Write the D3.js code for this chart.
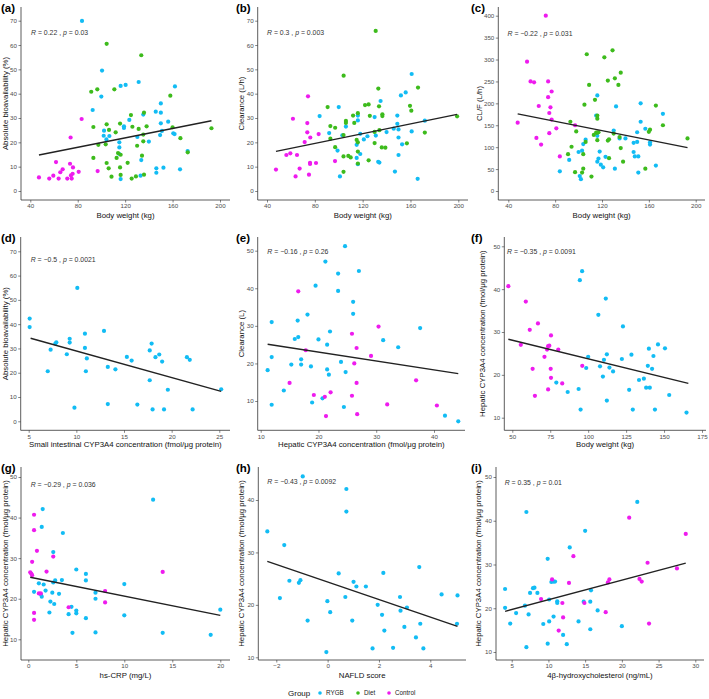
<!DOCTYPE html>
<html><head><meta charset="utf-8">
<script src="https://cdn.jsdelivr.net/npm/d3@7"></script>
<style>body{margin:0;background:#fff;}svg{display:block;font-family:"Liberation Sans",Arial,Helvetica,sans-serif;}</style>
</head><body>
<script>
// ---------------- DATA ----------------
const groups = ["RYGB", "Diet", "Control"];
const groupColors = ["#12BCF4", "#3DBB1C", "#EE1BEE"];

// (a) Body weight vs absolute bioavailability
const aRYGB = [[83.6,69.9],[100.5,49.5],[99.9,38.8],[92.6,33.3],[116.2,43.2],[120.4,43.6],[131.4,44.8],[162,43],[150.1,36],[150.1,32.2],[145.8,32.6],[135.3,31.4],[123.5,29.2],[119,26.6],[119,25.9],[156.3,28.5],[150.1,27.8],[151,24.7],[149.5,23],[160.6,23.7],[161.7,23.4],[130.3,22.2],[140,20.3],[115.1,20],[115.1,17.9],[115.1,15.2],[116.2,4.9],[102.2,24.8],[101.9,22.7],[104.2,21.2],[106.7,22.6],[133.6,12.7],[133,6.3],[146.3,9.3],[146.3,7.5],[152.3,9.6],[166.3,8.9],[172.7,16.4]];
const aDiet = [[104.4,60.5],[133.6,55.8],[91.4,40.8],[96.5,41.8],[110.9,41.8],[158.1,39.2],[135.9,32.2],[124.9,31.2],[104.4,27.4],[93.2,26.3],[106.4,25.1],[115.7,27.7],[126.1,26.4],[131.4,25.5],[138.1,26.6],[135.3,23.2],[112,24.1],[97.4,19],[103.6,19.2],[130.1,18.6],[135.3,20.4],[160,26.2],[166.6,21.7],[192.8,25.8],[172.8,15.9],[93.2,13.6],[114,15.6],[116.2,14.9],[112.8,13.6],[134.2,14.5],[104.4,11.5],[122.1,11.6],[106.1,9.3],[115.7,9.7],[108.5,5.9],[116.2,6.6],[125.5,5.1],[129.1,6],[135.9,6.7]];
const aControl = [[47.3,5.6],[56,5.1],[59.4,6.3],[61.7,11.9],[63.9,5.1],[65.3,7.7],[67.3,8.9],[71.2,5.1],[73.5,11.2],[74.3,6.4],[74.9,5.1],[75.7,7.1],[76,9.7],[80.8,7.9],[74,22],[83.3,29.6],[96.8,8.2]];
const aFit = [[47.3,14.8],[192.8,28.9]];

// (b) Body weight vs clearance
const bRYGB = [[100,34.5],[84,30.8],[92,23.8],[99,16.6],[101,6],[103,22.9],[106,26.5],[116,29],[116,31],[115,19],[118,23.5],[118,15.2],[121,21.2],[124,22.5],[130,30.4],[131,22.8],[133,12],[134,11.7],[135,37],[140,24.2],[146,25.6],[147,8],[149,27.6],[149,31],[150,25.3],[150,14.8],[150,22],[152,39.3],[153,19.2],[156,40.5],[161,48.1],[161,24.5],[166,5],[172,28.9],[116,11],[115,13.6]];
const bDiet = [[130.9,65.8],[104.1,47.4],[133.1,42.1],[166.3,42.5],[90.7,34.5],[122,35.3],[125,35.6],[133.7,34.8],[159.6,35],[160.7,33],[136.5,31.5],[136.5,30.8],[126,30.9],[112,31],[106,28.8],[106,28],[116,32],[113,28],[93,26.7],[97,26],[93,21.5],[97,18],[104,23],[115,21],[116,20],[130,24.3],[134,25],[157,19.6],[172,24],[199,30.7],[130,19.7],[136,17.9],[139,17.8],[116,16.2],[104,14.2],[108,14.4],[110,13.8],[116,11.3],[125,12.6],[104,7.9]];
const bControl = [[47.5,8.8],[56.2,14.8],[59.5,15.5],[61.7,29.7],[65.1,14.8],[63.9,6],[67.3,9.2],[71.5,20.1],[73.7,27.9],[73.7,24.1],[74.3,38.9],[75.1,6.7],[76.2,22],[76,11.6],[76,11.1],[81,11.5],[83.2,23.4],[96.9,12.3]];
const bFit = [[47.5,16.3],[199,31.5]];

// (c) Body weight vs CL/F
const cRYGB = [[84,45],[92,71],[100,89],[101,34],[102,27],[103,92],[104,107],[106,117],[115,172],[116,126],[116,218],[116,67],[117,74],[118,90],[119,60],[121,54],[123,78],[130,138],[131,51],[132,193],[135,120],[140,120],[147,110],[147,89],[148,79],[150,134],[150,112],[151,42],[151,79],[153,200],[153,158],[157,142],[161,106],[161,111],[166,58],[172,176]];
const cDiet = [[91,84],[93,158],[94,101],[97,43],[98,136],[103,42],[104,84],[104,51],[105,197],[106,112],[107,312],[109,242],[111,33],[113,128],[114,208],[115,133],[116,165],[116,172],[116,133],[116,116],[117,134],[122,305],[125,252],[125,115],[126,75],[126,118],[129,321],[130,131],[131,257],[134,242],[135,123],[136,270],[136,98],[138,67],[157,51],[160,135],[161,140],[166,195],[172,150],[193,120]];
const cControl = [[48,156],[56,295],[59,250],[62,248],[64,121],[66,194],[68,106],[72,400],[74,250],[74,214],[75,178],[75,132],[76,191],[77,227],[77,163],[81,143],[84,79],[97,150]];
const cFit = [[48,176],[193,99]];

// (d) Small intestinal CYP3A4 vs absolute bioavailability
const dRYGB = [[5.1,42.3],[5.1,38.8],[7.3,29.5],[7,20.6],[7.8,32],[7.9,32.5],[9,27.6],[9.3,34],[9.3,32.4],[9.8,5.6],[10.1,54.9],[10.9,36.1],[10.9,30.2],[11,20.6],[11.1,25.9],[12.9,37.2],[13.3,22.4],[13.3,7.1],[14.1,21.4],[15.3,26.5],[15.8,25],[16.4,6.9],[17.7,29.2],[17.7,16.9],[17.9,32],[18,4.9],[18.3,26.4],[18.7,27.5],[19,24.6],[19.2,4.9],[19.6,13],[21.6,26.4],[21.9,25.3],[22.2,4.9],[25.2,13.2]];
const dFit = [[5.2,34.2],[25.2,12.3]];

// (e) Hepatic CYP3A4 vs clearance
const eRYGB = [[11.2,18.2],[11.9,21.7],[11.9,31],[11.9,9],[14,12.8],[15.3,19.7],[15.9,26.5],[16.4,31.4],[16.5,27],[17,21.1],[17,19.7],[18.1,33],[18.7,19.2],[18.9,9.6],[19.5,40.7],[20,26.4],[20.7,10.7],[21.2,47.1],[21.5,25],[21.5,18.4],[21.8,17],[22,28.5],[23.4,43.9],[23.4,39.3],[23.9,20.4],[24.4,8.4],[24.6,51.2],[24.7,17.7],[26,36.4],[26,33.2],[27,44.6],[31.2,26.2],[33.8,24.3],[37.6,29.4],[41.9,6.1],[44.2,4.6]];
const eControl = [[15,14.8],[16.5,39.2],[17.8,23.5],[19.2,11.6],[21.1,11.1],[21.3,6],[22.1,12.3],[25.8,27.9],[25.8,11.4],[26.2,20],[26.6,24.1],[26.6,14.8],[26.7,6.5],[29.1,22],[30.4,29.8],[31.9,9.1],[36.9,15.5],[40.5,8.8]];
const eFit = [[11.2,25.1],[44.2,17.3]];

// (f) Body weight vs hepatic CYP3A4
const fRYGB = [[79,18.2],[86.5,16],[93.7,16.7],[95,11.9],[94.5,42.1],[96,44.2],[98.7,21.6],[100,24.2],[106.7,34],[107.8,22],[109.7,19.6],[110.4,23.5],[111.6,37.8],[112.3,24.8],[112.3,14],[114,21.7],[116.4,20.8],[122.2,23.7],[122.9,31.3],[127,16.5],[128.5,24.7],[129.4,11.9],[133.5,18.8],[136.7,19.1],[138.2,17],[139.3,22.1],[140,26.1],[140.6,17],[142.1,21.4],[143,24.4],[144,11.9],[146,27.1],[150.6,26.2],[153.4,15.3],[164.8,11.2]];
const fControl = [[47.4,40.7],[55.6,27],[58.9,37.1],[61.5,30.5],[63.4,21.4],[64.9,15.1],[66.9,32],[71.2,24.2],[72.9,25.9],[73.6,16.6],[73.6,26.7],[74.4,26.8],[75.5,29.2],[75.3,21.4],[75.5,19.3],[80.3,25.9],[82.9,18],[96.1,22.1]];
const fFit = [[47.4,28.3],[166,18]];

// (g) hs-CRP vs hepatic CYP3A4
const gRYGB = [[0.6,21.7],[1.1,23.8],[1.3,21.1],[1.4,20.5],[1.4,37.7],[1.5,42.1],[1.6,23.5],[1.8,22],[2.2,16.6],[2.3,19.3],[2.5,21.5],[2.6,31.5],[2.6,24],[2.7,18.7],[2.8,24.5],[3.2,21.2],[3.5,24.6],[3.6,36.2],[4.2,16.2],[4.5,18],[4.6,11.6],[5,27.2],[5,17.1],[5,16.4],[6,26.1],[6,24.5],[6,15.2],[7,21.5],[7,20],[7,11.7],[10,23.6],[10,15.9],[13,44.4],[14,11.6],[19,11.1],[20,17.3]];
const gControl = [[0.2,26.5],[0.3,26.2],[0.4,25.8],[0.4,29.1],[0.6,40.7],[0.6,36.9],[0.6,16.5],[0.6,14.8],[0.9,31.8],[1.1,21.3],[1.3,21.3],[1.9,26.7],[2.6,30.4],[4.2,17.9],[8,21.9],[8,19.1],[14,26.6]];
const gFit = [[0.2,25.3],[20,15.9]];

// (h) NAFLD score vs hepatic CYP3A4
const hRYGB = [[-2.35,34],[-1.86,21.3],[-1.69,31.4],[-1.49,24.6],[-1.12,24.2],[-1.06,24.7],[-0.97,44.5],[-0.78,17],[-0.05,11],[-0.01,20.7],[0.1,18.6],[0.43,26],[0.69,21.5],[0.73,42.1],[0.73,37.8],[0.96,17],[1.01,24.4],[1.12,23.5],[1.49,23.5],[1.75,11.7],[1.95,20],[2.12,18.1],[2.17,26.1],[2.21,15.1],[2.55,11.8],[2.82,21.5],[2.84,18.9],[2.99,15.8],[3.09,19.5],[3.44,13.8],[3.57,27.2],[3.61,16.4],[3.73,11.7],[4.44,22],[5.04,16.4],[5.06,21.8]];
const hFit = [[-2.35,28.3],[5.06,15.9]];

// (i) 4beta-hydroxycholesterol vs hepatic CYP3A4
const iRYGB = [[4.1,24.4],[4.1,20.1],[4.8,16.5],[5.6,18.9],[6.8,20.6],[7,42],[7,11.1],[7.3,18.6],[7.5,23.5],[7.9,24.6],[8.1,24.7],[8.5,23.5],[9.3,16.4],[9.9,31.3],[9.9,11.9],[10.1,22],[10.1,17],[10.4,26],[10.7,18.1],[10.7,26.1],[10.9,26.1],[11.2,21.6],[11.2,21.2],[12,13.9],[12.5,11.8],[12.9,33.9],[14.1,17],[14.8,21.5],[15,37.7],[15.7,21.5],[15.7,15.2],[15.8,24.1],[16.7,19.5],[20,15.9],[22.1,44.3]];
const iControl = [[9,22.1],[10.5,26.6],[11.4,14.9],[11.9,21.2],[12,17.9],[12.8,25.8],[13.4,31.9],[14.9,21.2],[17.8,19.1],[18.1,25.9],[18.3,26.6],[21,40.7],[22.4,26.7],[22.7,26.1],[23.5,30.4],[23.7,16.5],[27.5,29.1],[28.7,37]];
const iFit = [[4.1,19.3],[28.7,30.3]];

// tick values
const ticksWeight = [40, 80, 120, 160, 200];
const ticks0to70 = [0, 10, 20, 30, 40, 50, 60, 70];
const ticksCLF = [0, 50, 100, 150, 200, 250, 300, 350, 400];
const ticksSI = [5, 10, 15, 20, 25];
const ticksHep = [10, 20, 30, 40];
const ticks10to50 = [10, 20, 30, 40, 50];
const ticksWeightF = [50, 75, 100, 125, 150, 175];
const ticksCRP = [0, 5, 10, 15, 20];
const ticksNAFLD = [-2, 0, 2, 4];
const ticksHC = [5, 10, 15, 20, 25, 30];
const ticksHepY = [10, 20, 30, 40];

const hepLabel = "Hepatic CYP3A4 concentration (fmol/μg protein)";

// ---------------- LAYOUT ----------------
// box: plot area [left,right,top,bottom]; xm/ym: two value->pixel anchors
const panels = [
  {tag:"(a)", tx:1, box:[21,230,7,200], xm:[40,30.3,200,220], ym:[0,191,70,20.7], xt:ticksWeight, yt:ticks0to70,
   series:[aRYGB,aDiet,aControl], fit:aFit, r:"0.22", p:"0.03", sx:31, sy:32.5, xl:"Body weight (kg)", yl:"Absolute bioavailability (%)", ylx:5, xly:215},
  {tag:"(b)", tx:236, box:[257.7,468,7,200], xm:[40,267,200,458.3], ym:[0,191,70,20.7], xt:ticksWeight, yt:ticks0to70,
   series:[bRYGB,bDiet,bControl], fit:bFit, r:"0.3", p:"0.003", sx:267, sy:32.5, xl:"Body weight (kg)", yl:"Clearance (L/h)", ylx:241.5, xly:215},
  {tag:"(c)", tx:471, box:[498.3,705,7,200], xm:[40,508.3,200,695.7], ym:[0,191,400,15.7], xt:ticksWeight, yt:ticksCLF,
   series:[cRYGB,cDiet,cControl], fit:cFit, r:"−0.22", p:"0.031", sx:507.5, sy:33.5, xl:"Body weight (kg)", yl:"CL/F (L/h)", ylx:479, xly:215},
  {tag:"(d)", tx:1, box:[20.7,230,237,430.3], xm:[5,28.7,25,219.3], ym:[0,421.3,70,251.3], xt:ticksSI, yt:ticks0to70,
   series:[dRYGB,[],[]], fit:dFit, r:"−0.5", p:"0.0021", sx:30.7, sy:259.7, xl:"Small intestinal CYP3A4 concentration (fmol/μg protein)", yl:"Absolute bioavailability (%)", ylx:5, xly:444.5},
  {tag:"(e)", tx:236, box:[257.7,465,237,430.3], xm:[10,260.7,40,434], ym:[10,401,50,250.7], xt:ticksHep, yt:ticks10to50,
   series:[eRYGB,[],eControl], fit:eFit, r:"−0.16", p:"0.26", sx:267.3, sy:252, xl:"Hepatic CYP3A4 concentration (fmol/μg protein)", yl:"Clearance (L)", ylx:241.5, xly:444.5},
  {tag:"(f)", tx:471, box:[504.3,706,237,430.3], xm:[50,512.3,175,702], ym:[10,417.7,50,246.3], xt:ticksWeightF, yt:ticks10to50,
   series:[fRYGB,[],fControl], fit:fFit, r:"−0.35", p:"0.0091", sx:507, sy:252, xl:"Body weight (kg)", yl:hepLabel, ylx:482, xly:444.5},
  {tag:"(g)", tx:1, box:[21,230,467,660], xm:[0,28.3,20,220.3], ym:[10,639.3,50,477], xt:ticksCRP, yt:ticks10to50,
   series:[gRYGB,[],gControl], fit:gFit, r:"−0.29", p:"0.036", sx:30.7, sy:484.3, xl:"hs-CRP (mg/L)", yl:hepLabel, ylx:5, xly:675},
  {tag:"(h)", tx:236, box:[258.3,466,467,660], xm:[-2,276.3,4,430.3], ym:[10,657.3,40,500], xt:ticksNAFLD, yt:ticksHepY,
   series:[hRYGB,[],[]], fit:hFit, r:"−0.43", p:"0.0092", sx:267.3, sy:481.7, xl:"NAFLD score", yl:hepLabel, ylx:241.5, xly:675},
  {tag:"(i)", tx:471, box:[496,704,467,660], xm:[5,511.7,30,695.3], ym:[10,652,50,477], xt:ticksHC, yt:ticks10to50,
   series:[iRYGB,[],iControl], fit:iFit, r:"0.35", p:"0.01", sx:504.7, sy:482.3, xl:"4β-hydroxycholesterol (ng/mL)", yl:hepLabel, ylx:478, xly:675}
];

const svg = d3.select("body").append("svg").attr("width", 709).attr("height", 699);
svg.append("rect").attr("width", 709).attr("height", 699).attr("fill", "#fff");

const fmt = v => (v < 0 ? "−" + Math.abs(v) : String(v));

panels.forEach(p => {
  const [L, R, T, B] = p.box;
  const x = d3.scaleLinear().domain([p.xm[0], p.xm[2]]).range([p.xm[1], p.xm[3]]);
  const y = d3.scaleLinear().domain([p.ym[0], p.ym[2]]).range([p.ym[1], p.ym[3]]);
  const g = svg.append("g");

  // axes
  const xa = g.append("g").attr("transform", `translate(0,${B})`)
    .call(d3.axisBottom(x).tickValues(p.xt).tickSize(2.5).tickPadding(1.5).tickFormat(fmt));
  const ya = g.append("g").attr("transform", `translate(${L},0)`)
    .call(d3.axisLeft(y).tickValues(p.yt).tickSize(2.5).tickPadding(1.5).tickFormat(fmt));
  [xa, ya].forEach(a => {
    a.select(".domain").remove();
    a.selectAll(".tick line").attr("stroke", "#333").attr("stroke-width", 0.6);
    a.selectAll(".tick text").attr("fill", "#4D4D4D").style("font-size", "6.2px").style("font-family", "'Liberation Sans',Arial,sans-serif");
  });
  g.append("line").attr("x1", L).attr("x2", R).attr("y1", B).attr("y2", B).attr("stroke", "#333").attr("stroke-width", 0.8);
  g.append("line").attr("x1", L).attr("x2", L).attr("y1", T).attr("y2", B).attr("stroke", "#333").attr("stroke-width", 0.8);

  // points
  p.series.forEach((s, gi) => {
    g.append("g").selectAll("circle").data(s).join("circle")
      .attr("cx", d => x(d[0])).attr("cy", d => y(d[1])).attr("r", 2.1)
      .attr("fill", groupColors[gi]);
  });

  // fit line
  g.append("path").datum(p.fit)
    .attr("d", d3.line().x(d => x(d[0])).y(d => y(d[1])))
    .attr("stroke", "#222").attr("stroke-width", 1.4).attr("fill", "none");

  // stat text
  const t = g.append("text").attr("x", p.sx).attr("y", p.sy).attr("dy", "0.35em")
    .attr("fill", "#333").style("font-size", "6.9px");
  t.append("tspan").style("font-style", "italic").text("R");
  t.append("tspan").text(" = " + p.r + " , ");
  t.append("tspan").style("font-style", "italic").text("p");
  t.append("tspan").text(" = " + p.p);

  // axis titles
  g.append("text").attr("x", (L + R) / 2).attr("y", p.xly).attr("dy", "0.35em")
    .attr("text-anchor", "middle").attr("fill", "#111").style("font-size", "7.8px").text(p.xl);
  g.append("text").attr("transform", `translate(${p.ylx},${(T + B) / 2}) rotate(-90)`).attr("dy", "0.35em")
    .attr("text-anchor", "middle").attr("fill", "#111").style("font-size", "7.8px").text(p.yl);

  // panel tag
  g.append("text").attr("x", p.tx).attr("y", T + 1).attr("dy", "0.35em")
    .attr("fill", "#000").style("font-size", "11.5px").style("font-weight", "bold").text(p.tag);
});

// legend
const lg = svg.append("g");
lg.append("text").attr("x", 288).attr("y", 693).attr("dy", "0.35em").style("font-size", "8px").attr("fill", "#111").text("Group");
const legX = [[320, 326], [358, 364], [389, 395]];
groups.forEach((gname, i) => {
  lg.append("circle").attr("cx", legX[i][0]).attr("cy", 693).attr("r", 1.8).attr("fill", groupColors[i]);
  lg.append("text").attr("x", legX[i][1]).attr("y", 693).attr("dy", "0.35em").style("font-size", "6.3px").attr("fill", "#222").text(gname);
});
</script>
</body></html>
